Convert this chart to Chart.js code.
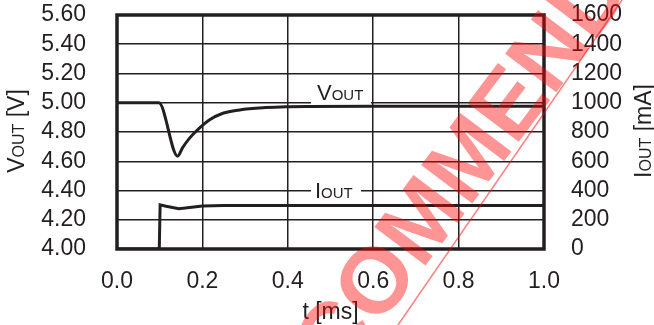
<!DOCTYPE html>
<html>
<head>
<meta charset="utf-8">
<script src="https://cdn.jsdelivr.net/npm/chart.js@4.4.1/dist/chart.umd.min.js"></script>
<style>
  html, body { margin: 0; padding: 0; background: #fff; }
  #wrap { width: 654px; height: 325px; }
</style>
</head>
<body>
<div id="wrap"><canvas id="c" width="654" height="325"></canvas></div>
<script>
// ---- data ----
const tV   = [0, 0.098, 0.142, 0.153, 0.170, 0.193, 0.217, 0.248, 0.287, 0.349, 0.396, 0.45, 0.6, 0.8, 1.0];
const vOut = [5.00, 5.00, 4.635, 4.69, 4.758, 4.826, 4.883, 4.928, 4.951, 4.967, 4.973, 4.975, 4.976, 4.976, 4.976];
const tI   = [0, 0.099, 0.101, 0.115, 0.145, 0.175, 0.20, 0.25, 0.40, 1.0];
const iOut = [0, 0, 302, 292, 276, 286, 294, 297, 298, 298];
const vTicks = [4.0, 4.2, 4.4, 4.6, 4.8, 5.0, 5.2, 5.4, 5.6];
const iTicks = [0, 200, 400, 600, 800, 1000, 1200, 1400, 1600];
const tTicks = [0.0, 0.2, 0.4, 0.6, 0.8, 1.0];

const INK = '#231f20';
const FONT = '"Liberation Sans", Arial, sans-serif';

function pts(xs, ys) { return xs.map((x, i) => ({ x: x, y: ys[i] })); }

function drawMixed(ctx, parts, x, y) {
  let cx = x;
  for (const [t, s] of parts) {
    ctx.font = s + 'px ' + FONT;
    ctx.fillText(t, cx, y);
    cx += ctx.measureText(t).width;
  }
  return cx - x;
}
function mixedWidth(ctx, parts) {
  let w = 0;
  for (const [t, s] of parts) { ctx.font = s + 'px ' + FONT; w += ctx.measureText(t).width; }
  return w;
}

const decor = {
  id: 'decor',
  afterDatasetsDraw(chart) {
    const ctx = chart.ctx, a = chart.chartArea;
    ctx.save();
    ctx.strokeStyle = INK;
    ctx.lineWidth = 3.5;
    ctx.strokeRect(a.left, a.top, a.right - a.left, a.bottom - a.top);
    ctx.fillStyle = '#fff';
    ctx.fillRect(311, 82, 60, 22);
    ctx.fillRect(311, 182, 50, 17);
    ctx.fillStyle = INK;
    ctx.textBaseline = 'alphabetic';
    ctx.textAlign = 'left';
    drawMixed(ctx, [['V', 22], ['OUT', 15]], 317, 100);
    drawMixed(ctx, [['I', 22], ['OUT', 15]], 315, 198);
    const lt = [['V', 23], ['OUT', 16], [' [V]', 23]];
    ctx.save();
    ctx.translate(24, 131);
    ctx.rotate(-Math.PI / 2);
    drawMixed(ctx, lt, -mixedWidth(ctx, lt) / 2, 0);
    ctx.restore();
    const rt = [['I', 23], ['OUT', 16], [' [mA]', 23]];
    ctx.save();
    ctx.translate(651, 131);
    ctx.rotate(-Math.PI / 2);
    drawMixed(ctx, rt, -mixedWidth(ctx, rt) / 2, 0);
    ctx.restore();
    ctx.restore();
  },
  afterDraw(chart) {
    const ctx = chart.ctx;
    ctx.save();
    ctx.fillStyle = 'rgba(255,0,0,0.42)';
    const fs = 93;
    ctx.font = 'bold ' + fs + 'px ' + FONT;
    const text = 'NOT RECOMMENDED FOR NEW DESIGN';
    const pre = ctx.measureText('NOT REC').width;
    const oW = ctx.measureText('O').width;
    ctx.translate(373, 279);
    ctx.rotate(-53 * Math.PI / 180);
    ctx.textBaseline = 'alphabetic';
    ctx.textAlign = 'left';
    ctx.fillText(text, -(pre + oW / 2), 0.364 * fs);
    ctx.restore();
    ctx.save();
    ctx.strokeStyle = 'rgba(255,0,0,0.5)';
    ctx.lineWidth = 1.5;
    ctx.beginPath();
    ctx.moveTo(398, 325);
    ctx.lineTo(622, 0);
    ctx.stroke();
    ctx.restore();
  }
};

const near = (a, b) => Math.abs(a - b) < 1e-6;
function fixV(w) {
  return s => { s.width = w; s.paddingTop = 0; s.paddingBottom = 0; s.paddingLeft = 0; s.paddingRight = 0; };
}

new Chart(document.getElementById('c'), {
  type: 'line',
  data: {
    datasets: [
      { label: 'VOUT', data: pts(tV, vOut), yAxisID: 'yV', borderColor: INK, borderWidth: 3,
        pointRadius: 0, cubicInterpolationMode: 'monotone', fill: false },
      { label: 'IOUT', data: pts(tI, iOut), yAxisID: 'yI', borderColor: INK, borderWidth: 3,
        pointRadius: 0, tension: 0, fill: false }
    ]
  },
  options: {
    responsive: false,
    animation: false,
    devicePixelRatio: 1,
    layout: { padding: { top: 15, left: 0, right: 0, bottom: 0 } },
    plugins: { legend: { display: false }, tooltip: { enabled: false } },
    scales: {
      x: {
        type: 'linear', min: 0, max: 1,
        afterBuildTicks: s => { s.ticks = tTicks.map(v => ({ value: v })); },
        afterFit: s => { s.height = 76; s.paddingLeft = 0; s.paddingRight = 0; s.paddingTop = 0; s.paddingBottom = 0; },
        ticks: { autoSkip: false, maxRotation: 0, padding: 19, color: INK, font: { family: FONT, size: 23 },
                 callback: v => Number(v).toFixed(1) },
        grid: { drawTicks: false, color: INK,
                lineWidth: c => (near(c.tick.value, 0) || near(c.tick.value, 1)) ? 0 : 1.5 },
        border: { display: false },
        title: { display: true, text: 't [ms]', color: INK, font: { family: FONT, size: 23 },
                 padding: { top: 0, bottom: -1 } }
      },
      yV: {
        type: 'linear', position: 'left', min: 4.0, max: 5.6,
        afterBuildTicks: s => { s.ticks = vTicks.map(v => ({ value: v })); },
        afterFit: fixV(117),
        ticks: { autoSkip: false, padding: 31, color: INK, font: { family: FONT, size: 23 },
                 callback: v => Number(v).toFixed(2) },
        grid: { drawTicks: false, color: INK,
                lineWidth: c => (near(c.tick.value, 4.0) || near(c.tick.value, 5.6)) ? 0 : 1.5 },
        border: { display: false }
      },
      yI: {
        type: 'linear', position: 'right', min: 0, max: 1600,
        afterBuildTicks: s => { s.ticks = iTicks.map(v => ({ value: v })); },
        afterFit: fixV(110),
        ticks: { autoSkip: false, padding: 27, color: INK, font: { family: FONT, size: 23 },
                 callback: v => String(v) },
        grid: { display: false, drawTicks: false },
        border: { display: false }
      }
    }
  },
  plugins: [decor]
});
</script>
</body>
</html>
